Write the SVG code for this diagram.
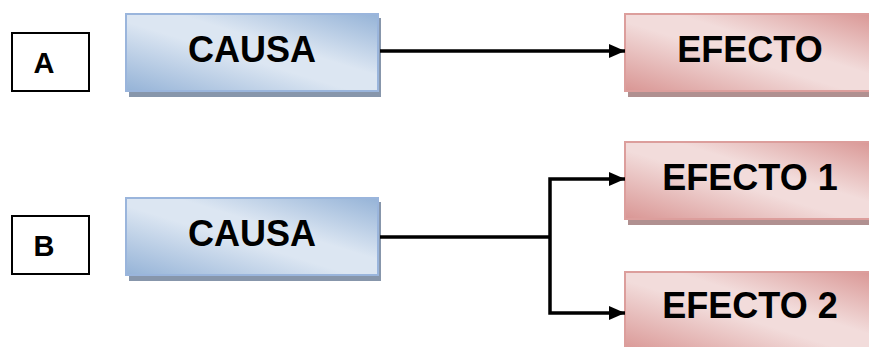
<svg xmlns="http://www.w3.org/2000/svg" width="869" height="347" viewBox="0 0 869 347">
<defs>
<linearGradient id="gBlue" x1="0" y1="1" x2="1" y2="0">
<stop offset="0" stop-color="#95b3d7"/>
<stop offset="0.45" stop-color="#dce6f2"/>
<stop offset="0.6" stop-color="#dce6f2"/>
<stop offset="1" stop-color="#95b3d7"/>
</linearGradient>
<linearGradient id="gPink" x1="0" y1="1" x2="1" y2="0">
<stop offset="0" stop-color="#d99694"/>
<stop offset="0.45" stop-color="#f2dcdb"/>
<stop offset="0.6" stop-color="#f2dcdb"/>
<stop offset="1" stop-color="#d99694"/>
</linearGradient>
<marker id="arr" markerWidth="16" markerHeight="14" refX="16" refY="7" orient="auto" markerUnits="userSpaceOnUse">
<path d="M0,0 L16,7 L0,14 Z" fill="#000"/>
</marker>
</defs>
<style>
.lbl{fill:#fff;stroke:#000;stroke-width:2}
.blue{fill:url(#gBlue);stroke:#9ab5dc;stroke-width:2}
.pink{fill:url(#gPink);stroke:#dc9e9c;stroke-width:2}
.shB{fill:#8796ab}
.shP{fill:#b09090}
text{font-family:"Liberation Sans",Arial,sans-serif;font-weight:bold;fill:#000;text-anchor:middle}
.big{font-size:36px}
.small{font-size:29px}
.con{fill:none;stroke:#000;stroke-width:3.5}
</style>
<g id="labelA">
<rect class="lbl" x="12" y="33" width="77" height="58"/>
<text class="small" x="44" y="73">A</text>
</g>
<g id="causaA">
<rect class="shB" x="129" y="18" width="252" height="79"/>
<rect class="blue" x="126" y="14" width="252" height="77"/>
<text class="big" x="252" y="62">CAUSA</text>
</g>
<g id="efecto">
<rect class="shP" x="628" y="18" width="250" height="79"/>
<rect class="pink" x="625" y="14" width="250" height="77"/>
<text class="big" x="750" y="62">EFECTO</text>
</g>
<g id="labelB">
<rect class="lbl" x="12" y="216" width="77" height="58"/>
<text class="small" x="44" y="256">B</text>
</g>
<g id="causaB">
<rect class="shB" x="129" y="202" width="252" height="79"/>
<rect class="blue" x="126" y="198" width="252" height="77"/>
<text class="big" x="252" y="246">CAUSA</text>
</g>
<g id="efecto1">
<rect class="shP" x="628" y="146" width="250" height="79"/>
<rect class="pink" x="625" y="142" width="250" height="77"/>
<text class="big" x="750" y="190">EFECTO 1</text>
</g>
<g id="efecto2">
<rect class="shP" x="628" y="276" width="250" height="79"/>
<rect class="pink" x="625" y="272" width="250" height="80"/>
<text class="big" x="750" y="318">EFECTO 2</text>
</g>
<g id="connectors">
<path class="con" d="M380,51 L625,51" marker-end="url(#arr)"/>
<path class="con" d="M380,237 L550,237"/>
<path class="con" d="M550,237 L550,179 L625,179" marker-end="url(#arr)"/>
<path class="con" d="M550,237 L550,313 L625,313" marker-end="url(#arr)"/>
</g>
</svg>
